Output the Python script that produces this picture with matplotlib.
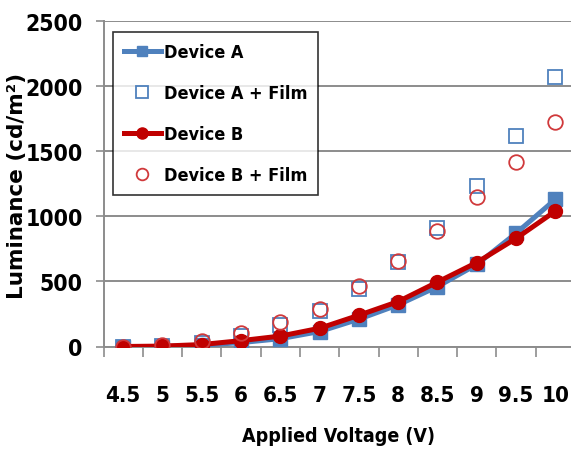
import matplotlib
matplotlib.use("Agg")
import matplotlib.pyplot as plt
import numpy as np

# Applied voltage steps (category axis)
voltages = ["4.5", "5", "5.5", "6", "6.5", "7", "7.5", "8", "8.5", "9", "9.5", "10"]

# Luminance readings in cd/m2
device_a = [0, 0, 10, 30, 60, 115, 210, 320, 460, 630, 870, 1130]
device_a_film = [0, 5, 25, 80, 165, 275, 440, 650, 910, 1235, 1620, 2070]
device_b = [0, 3, 15, 45, 80, 140, 240, 345, 495, 645, 830, 1040]
device_b_film = [0, 12, 45, 100, 185, 290, 465, 660, 885, 1145, 1420, 1725]

y_ticks = [0, 500, 1000, 1500, 2000, 2500]

BLUE = "#4F81BD"
RED = "#C00000"
RED_LIGHT = "#D0393B"
GRID = "#8C8C8C"

narrow = dict(family=["DejaVu Sans"], stretch="condensed", weight="bold")

fig = plt.figure(figsize=(5.71, 4.52), dpi=100)
ax = fig.add_axes([103.5 / 571, 1 - 347.5 / 452, 471.5 / 571, 325.5 / 452])

x = np.arange(len(voltages))

ax.plot(x, device_a, color=BLUE, lw=3.6, marker="s", ms=9.5,
        mfc=BLUE, mec=BLUE, label="Device A", zorder=3)
ax.plot(x, device_a_film, ls="none", marker="s", ms=10, mfc="none",
        mec=BLUE, mew=1.3, label="Device A + Film", zorder=4)
ax.plot(x, device_b, color=RED, lw=3.6, marker="o", ms=10,
        mfc=RED, mec=RED, label="Device B", zorder=5)
ax.plot(x, device_b_film, ls="none", marker="o", ms=10.5, mfc="none",
        mec=RED_LIGHT, mew=1.3, label="Device B + Film", zorder=6)

ax.set_xlim(-0.5, len(voltages) - 0.5)
ax.set_ylim(0, 2500)

# category labels centred, tick marks on category boundaries
ax.set_xticks(x)
ax.set_xticklabels(voltages, fontsize=16, **narrow)
ax.set_xticks(np.arange(len(voltages) + 1) - 0.5, minor=True)
ax.tick_params(axis="x", which="major", length=0, pad=28)
ax.tick_params(axis="x", which="minor", length=7, width=1.2, color=GRID)

ax.set_yticks(y_ticks)
ax.set_yticklabels([str(v) for v in y_ticks], fontsize=16.5, **narrow)
ax.tick_params(axis="y", length=6, width=1.2, color=GRID, pad=9)

ax.grid(axis="y", color=GRID, lw=1.4, zorder=0)
ax.set_axisbelow(True)
for side in ("top", "right"):
    ax.spines[side].set_visible(False)
for side in ("left", "bottom"):
    ax.spines[side].set_color(GRID)
    ax.spines[side].set_linewidth(1.4)

leg = ax.legend(loc="upper left", bbox_to_anchor=(0.02, 0.965),
                borderaxespad=0, frameon=True, fancybox=False,
                prop=dict(size=13, **narrow),
                labelspacing=1.27, handlelength=2.05, handletextpad=0.17,
                borderpad=0.6, markerscale=0.8)
leg.get_frame().set_edgecolor("black")
leg.get_frame().set_linewidth(1.2)

fig.text(338 / 571, 1 - 437 / 452, "Applied Voltage (V)", ha="center",
         va="center", fontsize=14, **narrow)
fig.text(17 / 571, 1 - 186 / 452, "Luminance (cd/m²)", rotation=90,
         ha="center", va="center", family="DejaVu Sans", weight="bold",
         fontsize=15.5)

fig.savefig("out.png", dpi=100)
